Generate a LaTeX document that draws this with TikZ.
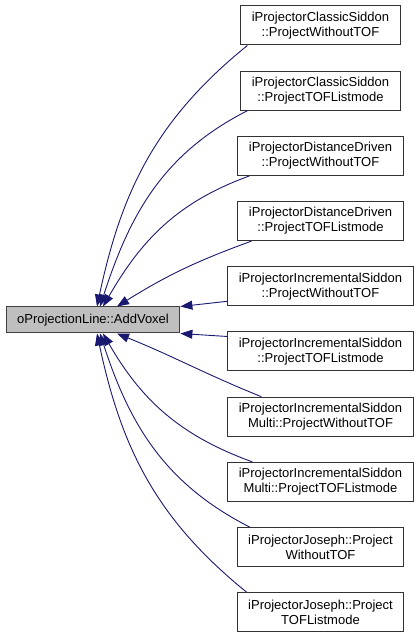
\documentclass[tikz,border=0pt]{standalone}
\usepackage{fontspec}
\setmainfont{Liberation Sans}
\usetikzlibrary{arrows.meta, positioning}

\definecolor{edgeblue}{HTML}{191970}
\definecolor{mainfill}{HTML}{BFBFBF}

\tikzset{
  callbox/.style={draw=black!80, line width=1pt, fill=white, align=center,
    font=\fontsize{13}{15}\selectfont, inner xsep=11pt, minimum height=39pt},
  mainbox/.style={draw=black!75, line width=1pt, fill=mainfill,
    font=\fontsize{13}{15}\selectfont, inner xsep=11pt, minimum height=26pt},
  calledge/.style={draw=edgeblue, line width=0.9pt,
    -{Triangle[length=12pt, width=9pt, fill=edgeblue]}}
}

\begin{document}
\begin{tikzpicture}[x=1pt, y=1pt]
  \useasboundingbox (0,0) rectangle (419,640);
  % caller function
  \node[mainbox] (main) at (93,320) {oProjectionLine::AddVoxel};
  % callers, top to bottom
  \foreach \i/\first/\second in
    {1/iProjectorClassicSiddon/::ProjectWithoutTOF,
     2/iProjectorClassicSiddon/::ProjectTOFListmode,
     3/iProjectorDistanceDriven/::ProjectWithoutTOF,
     4/iProjectorDistanceDriven/::ProjectTOFListmode,
     5/iProjectorIncrementalSiddon/::ProjectWithoutTOF,
     6/iProjectorIncrementalSiddon/::ProjectTOFListmode,
     7/iProjectorIncrementalSiddon/Multi::ProjectWithoutTOF,
     8/iProjectorIncrementalSiddon/Multi::ProjectTOFListmode,
     9/iProjectorJoseph::Project/WithoutTOF,
     10/iProjectorJoseph::Project/TOFListmode} {
    \node[callbox] (n\i) at (320.5, {614.5-65.2*(\i-1)}) {\first\\\second};
  }
  % edges into AddVoxel
  \draw[calledge] ([xshift=7pt]n1.south west) to[out=219, in=78] ([xshift=4pt]main.north);
  \draw[calledge] ([xshift=7pt]n2.south west) to[out=207, in=72] ([xshift=7pt]main.north);
  \draw[calledge] ([xshift=12pt]n3.south west) to[out=200, in=60] ([xshift=10pt]main.north);
  \draw[calledge] ([xshift=14pt]n4.south west) to[out=200, in=32] ([xshift=24pt]main.north);
  \draw[calledge] ([yshift=5pt]n5.south west) -- (main.north east);
  \draw[calledge] ([yshift=-5pt]n6.north west) -- (main.south east);
  \draw[calledge] ([xshift=34pt]n7.north west) to[out=158, in=-22] ([xshift=24pt]main.south);
  \draw[calledge] ([xshift=25pt]n8.north west) to[out=160, in=-60] ([xshift=10pt]main.south);
  \draw[calledge] ([xshift=13pt]n9.north west) to[out=153, in=-72] ([xshift=7pt]main.south);
  \draw[calledge] ([xshift=10pt]n10.north west) to[out=141, in=-78] ([xshift=4pt]main.south);
\end{tikzpicture}
\end{document}
